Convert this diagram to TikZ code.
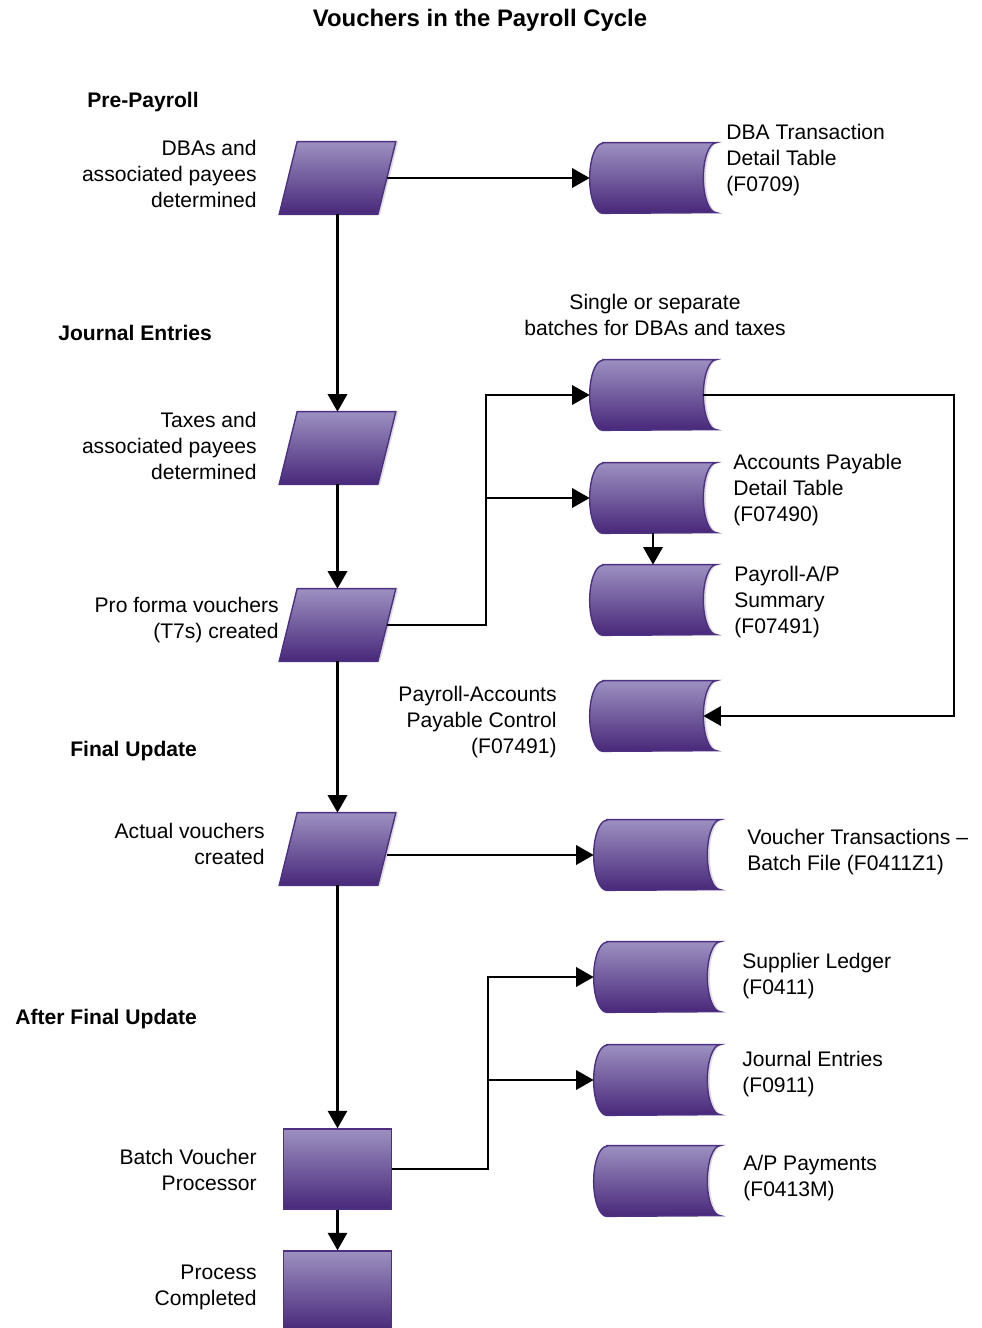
\documentclass[tikz,border=0pt]{standalone}
\usepackage{fontspec}
\setmainfont{Liberation Sans}
\usepackage{tikz}
\usetikzlibrary{arrows.meta}

\definecolor{boxtop}{RGB}{156,144,192}
\definecolor{boxbottom}{RGB}{72,40,122}
\definecolor{boxline}{RGB}{78,48,130}
\definecolor{boxshade}{RGB}{222,222,222}

% slanted step drawn over an empty node
\newcommand{\slantpath}[1]{([xshift=0.18cm]#1.north west) -- ([xshift=0.18cm]#1.north east)
    -- ([xshift=-0.18cm]#1.south east) -- ([xshift=-0.18cm]#1.south west) -- cycle}
\newcommand{\slantbox}[1]{%
  \fill[boxshade, transform canvas={xshift=0.05cm}] \slantpath{#1};
  \shadedraw[stored] \slantpath{#1};}
% stored data symbol drawn over an empty node
\newcommand{\storepath}[1]{([xshift=0.26cm]#1.north west) -- (#1.north east)
    arc[start angle=90, end angle=270, x radius=0.26cm, y radius=0.7cm]
    -- ([xshift=0.26cm]#1.south west)
    arc[start angle=270, end angle=90, x radius=0.26cm, y radius=0.7cm] -- cycle}
\newcommand{\storedata}[1]{%
  \fill[boxshade, transform canvas={xshift=0.05cm}] \storepath{#1};
  \shadedraw[stored] \storepath{#1};}

\begin{document}
\begin{tikzpicture}[x=0.02cm, y=-0.02cm]
\tikzstyle{process} = [rectangle, minimum width=1.96cm, minimum height=1.44cm, inner sep=0pt]
\tikzstyle{batch} = [rectangle, minimum width=2.16cm, minimum height=1.6cm, inner sep=0pt, top color=boxtop, bottom color=boxbottom, draw=boxline, line width=0.8pt]
\tikzstyle{store} = [rectangle, minimum width=2.52cm, minimum height=1.4cm, inner sep=0pt]
\tikzstyle{stored} = [top color=boxtop, bottom color=boxbottom, draw=boxline, line width=0.8pt]
\tikzstyle{lbl} = [font=\fontsize{12}{14.8}\selectfont, inner sep=0pt]
\tikzstyle{stage} = [font=\fontsize{12}{14.8}\selectfont\bfseries, inner sep=0pt, anchor=west]
\tikzstyle{line} = [line width=1.4pt, -{Triangle[length=10pt, width=11pt]}]

\useasboundingbox (0,0) rectangle (981,1328);
\fill[white] (0,0) rectangle (981,1328);

\node (title) [font=\fontsize{13.6}{16}\selectfont\bfseries, inner sep=0pt] at (480,20) {Vouchers in the Payroll Cycle};

\node (pre)   [stage] at (87,102)   {Pre-Payroll};
\node (jrnl)  [stage] at (58,333)   {Journal Entries};
\node (final) [stage] at (70,751)   {Final Update};
\node (after) [stage] at (15,1019)  {After Final Update};

% process steps
\node (p1) [process] at (337.5,178) {};
\node (p2) [process] at (337.5,448) {};
\node (p3) [process] at (337.5,625) {};
\node (p4) [process] at (337.5,849) {};
\foreach \p in {p1,p2,p3,p4} {\slantbox{\p}}
\node (r1) [batch] at (337.5,1169) {};
\node (r2) [batch] at (337.5,1291) {};

\node (p1t) [lbl, align=right, anchor=east] at (257,174) {DBAs and\\associated payees\\determined};
\node (p2t) [lbl, align=right, anchor=east] at (257,446) {Taxes and\\associated payees\\determined};
\node (p3t) [lbl, align=right, anchor=east] at (279,620) {Pro forma vouchers\\(T7s) created};
\node (p4t) [lbl, align=right, anchor=east] at (265,844) {Actual vouchers\\created};
\node (r1t) [lbl, align=right, anchor=east] at (257,1170) {Batch Voucher\\Processor};
\node (r2t) [lbl, align=right, anchor=east] at (257,1287) {Process\\Completed};

% tables
\node (s1) [store] at (653,178) {};
\node (s2) [store] at (653,395) {};
\node (s3) [store] at (653,498) {};
\node (s4) [store] at (653,600) {};
\node (s5) [store] at (653,716) {};
\node (s6) [store] at (657,855) {};
\node (s7) [store] at (657,977) {};
\node (s8) [store] at (657,1080) {};
\node (s9) [store] at (657,1181) {};
\foreach \s in {s1,s2,s3,s4,s5,s6,s7,s8,s9} {\storedata{\s}}

\node (s1t) [lbl, align=left, anchor=west] at (726,160) {DBA Transaction\\Detail Table\\(F0709)};
\node (s2t) [lbl, align=center] at (655,315) {Single or separate\\batches for DBAs and taxes};
\node (s3t) [lbl, align=left, anchor=west] at (733,490) {Accounts Payable\\Detail Table\\(F07490)};
\node (s4t) [lbl, align=left, anchor=west] at (734,602) {Payroll-A/P\\Summary\\(F07491)};
\node (s5t) [lbl, align=right, anchor=east] at (557,722) {Payroll-Accounts\\Payable Control\\(F07491)};
\node (s6t) [lbl, align=left, anchor=west] at (747,852) {Voucher Transactions –\\Batch File (F0411Z1)};
\node (s7t) [lbl, align=left, anchor=west] at (742,976) {Supplier Ledger\\(F0411)};
\node (s8t) [lbl, align=left, anchor=west] at (742,1074) {Journal Entries\\(F0911)};
\node (s9t) [lbl, align=left, anchor=west] at (743,1178) {A/P Payments\\(F0413M)};

\coordinate (ja) at (486,498);
\coordinate (jb) at (954,716);
\coordinate (jc) at (488,1080);

\draw [line] (p1) -- (s1);
\draw [line] (p1) -- (p2);
\draw [line] (p2) -- (p3);
\draw [line] (p3) -- (p4);
\draw [line] (p4) -- (r1);
\draw [line] (r1) -- (r2);
\draw [line] (p3) -| (ja) |- (s2);
\draw [line] (ja) -- (s3);
\draw [line] (s3) -- (s4);
\draw [line] ([xshift=-0.26cm]s2.east) -| (jb) -- ([xshift=-0.26cm]s5.east);
\draw [line] (p4.east |- s6.west) -- (s6.west);
\draw [line] (r1) -| (jc) |- (s7);
\draw [line] (jc) -- (s8);

\end{tikzpicture}
\end{document}
